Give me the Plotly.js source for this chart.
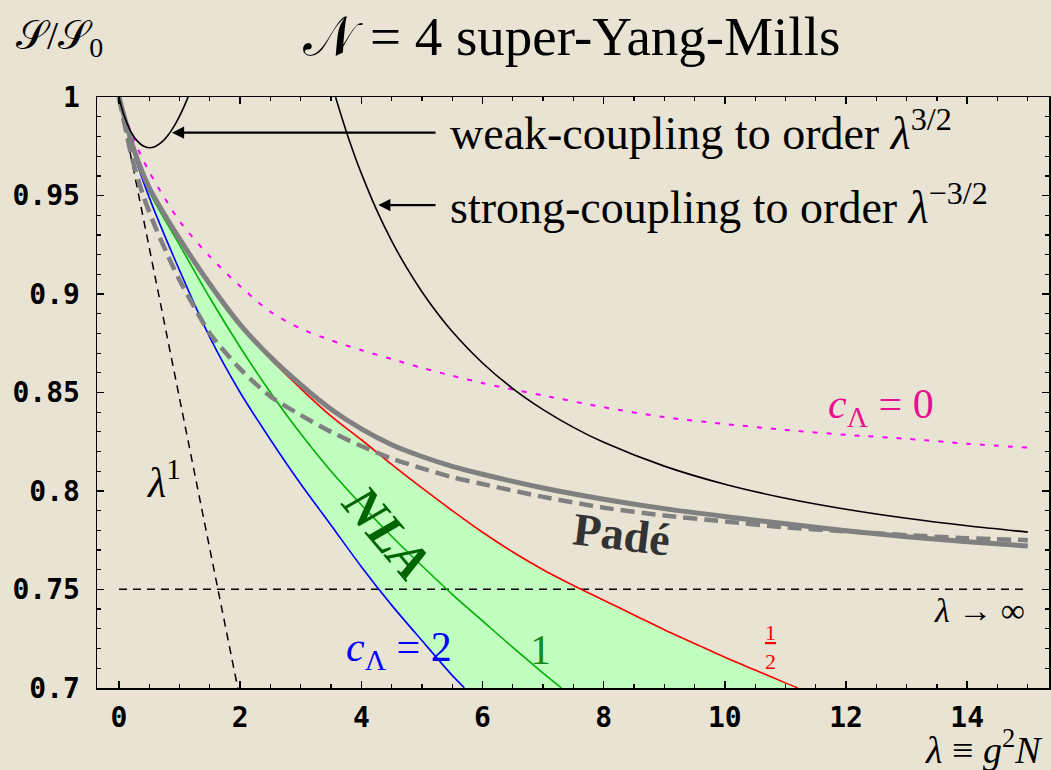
<!DOCTYPE html>
<html>
<head>
<meta charset="utf-8">
<script src="https://cdn.plot.ly/plotly-3.0.1.min.js"></script>
<style>
  html, body { margin: 0; padding: 0; background: #e9e3d4; }
  #chart { width: 1051px; height: 770px; }
</style>
</head>
<body>
<div id="chart"></div>
<script>
// Entropy of N=4 SYM, normalised to the free value, as a function of the 't Hooft coupling

// weak-coupling expansion to order lambda^(3/2)
const weakLam = [0, 0.05, 0.1, 0.2, 0.3, 0.4, 0.5, 0.6, 0.7, 0.8, 0.9, 1.0, 1.1, 1.2];
const weakVal = [1, 0.9940, 0.9893, 0.9823, 0.9778, 0.9752, 0.9743, 0.9750, 0.9770, 0.9803, 0.9848, 0.9904, 0.9971, 1.0048];

// strong-coupling expansion to order lambda^(-3/2)
const strongLam = [3.575, 3.6, 3.7, 3.8, 3.9, 4.0, 4.25, 4.5, 4.75, 5.0, 5.25, 5.5, 6.0, 6.5, 7.0, 7.5, 8, 9, 10, 11, 12, 13, 14, 15];
const strongVal = [1.0, 0.9974, 0.9875, 0.9781, 0.9694, 0.9613, 0.9429, 0.9270, 0.9133, 0.9012, 0.8905, 0.8810, 0.8650, 0.8520, 0.8413, 0.8323, 0.8247, 0.8126, 0.8034, 0.7963, 0.7907, 0.7861, 0.7823, 0.7791];

// first-order weak-coupling line
const linLam = [0, 1.96];
const linVal = [1.0, 0.70];

// strong-coupling limit
const limLam = [0, 15];
const limVal = [0.75, 0.75];

// NLA, c_Lambda = 0
const nla0Lam = [0, 0.25, 0.5, 0.75, 1.0, 1.5, 2.0, 2.5, 3.0, 3.5, 4.0, 4.5, 5.0, 5.5, 6.0, 6.5, 7.0, 8.0, 9.0, 10.0, 11.0, 12.0, 13.0, 14.0, 15.0];
const nla0Val = [1, 0.978, 0.962, 0.949, 0.937, 0.919, 0.904, 0.891, 0.8825, 0.8765, 0.8715, 0.867, 0.8625, 0.8585, 0.8548, 0.8515, 0.8485, 0.8425, 0.8375, 0.834, 0.831, 0.8285, 0.8265, 0.824, 0.822];

// NLA, c_Lambda = 1/2
const nlaHalfLam = [0, 0.25, 0.5, 1.0, 1.5, 2.0, 2.5, 3.0, 3.5, 4.0, 4.5, 5.0, 5.5, 6.0, 6.5, 7.0, 7.5, 8.0, 8.5, 9.0, 9.5, 10.0, 10.5, 11.0, 11.2];
const nlaHalfVal = [1, 0.973, 0.954, 0.928, 0.905, 0.8845, 0.867, 0.852, 0.838, 0.826, 0.8135, 0.8015, 0.790, 0.779, 0.769, 0.760, 0.752, 0.7445, 0.737, 0.7295, 0.7225, 0.7155, 0.709, 0.7025, 0.700];

// NLA, c_Lambda = 1
const nla1Lam = [0, 0.25, 0.5, 1.0, 1.5, 2.0, 2.5, 3.0, 3.5, 4.0, 4.5, 5.0, 5.5, 6.0, 6.5, 7.0, 7.3];
const nla1Val = [1, 0.972, 0.952, 0.925, 0.898, 0.873, 0.850, 0.829, 0.810, 0.793, 0.777, 0.762, 0.7475, 0.734, 0.7205, 0.7075, 0.700];

// NLA, c_Lambda = 2
const nla2Lam = [0, 0.25, 0.5, 1.0, 1.5, 2.0, 2.5, 3.0, 3.5, 4.0, 4.5, 5.0, 5.5, 5.7];
const nla2Val = [1, 0.971, 0.949, 0.912, 0.878, 0.850, 0.826, 0.8035, 0.7826, 0.7615, 0.742, 0.724, 0.7063, 0.700];

// Pade approximants
const padeLam = [0, 0.25, 0.5, 1, 1.5, 2, 2.5, 3, 3.5, 4, 4.5, 5, 5.5, 6, 7, 8, 9, 10, 11, 12, 13, 14, 15];
const padeVal = [1, 0.973, 0.954, 0.928, 0.905, 0.8845, 0.868, 0.854, 0.8415, 0.8315, 0.8235, 0.8175, 0.8125, 0.8085, 0.8015, 0.7958, 0.791, 0.787, 0.7833, 0.7798, 0.7767, 0.7742, 0.772];
const padeAltLam = [0, 0.2, 0.4, 0.6, 0.8, 1.0, 1.25, 1.5, 2.0, 2.5, 3.0, 3.5, 4.0, 4.5, 5.0, 5.5, 6.0, 7.0, 8.0, 9.0, 10.0, 11.0, 12.0, 13.0, 14.0, 15.0];
const padeAltVal = [1, 0.971, 0.950, 0.934, 0.920, 0.907, 0.893, 0.880, 0.862, 0.848, 0.8385, 0.830, 0.8228, 0.8165, 0.8115, 0.807, 0.8035, 0.797, 0.7915, 0.7875, 0.7845, 0.7815, 0.7795, 0.7775, 0.776, 0.775];

// axis ticks
const xTicks = [0, 2, 4, 6, 8, 10, 12, 14];
const xTickText = ['0', '2', '4', '6', '8', '10', '12', '14'];
const yTicks = [0.7, 0.75, 0.8, 0.85, 0.9, 0.95, 1.0];
const yTickText = ['0.7', '0.75', '0.8', '0.85', '0.9', '0.95', '1'];

const serif = 'Liberation Serif, Times New Roman, serif';
const mono = 'DejaVu Sans Mono, monospace';

function curve(x, y, color, width, dash, extra) {
  return Object.assign({
    x: x, y: y, type: 'scatter', mode: 'lines', hoverinfo: 'skip', showlegend: false,
    line: { color: color, width: width, dash: dash || 'solid', shape: 'spline', smoothing: 0.8 }
  }, extra || {});
}

const traces = [
  // NLA band between c_Lambda = 1/2 and c_Lambda = 2
  curve(nlaHalfLam, nlaHalfVal, 'rgba(0,0,0,0)', 0),
  curve(nla2Lam, nla2Val, 'rgba(0,0,0,0)', 0, null, { fill: 'tonexty', fillcolor: '#c0ffc0' }),
  curve(limLam, limVal, '#000000', 1.5, '8px,6px', { line: { color: '#000', width: 1.5, dash: '8px,6px' } }),
  curve(linLam, linVal, '#000000', 1.5, '8px,6px', { line: { color: '#000', width: 1.5, dash: '8px,6px' } }),
  curve(nla0Lam, nla0Val, '#ff00ff', 2, '5px,9px'),
  curve(nlaHalfLam, nlaHalfVal, '#ff0000', 1.6),
  curve(nla1Lam, nla1Val, '#00b000', 1.6),
  curve(nla2Lam, nla2Val, '#0000ff', 1.6),
  curve(padeAltLam, padeAltVal, '#808080', 4.5, '14px,7px'),
  curve(padeLam, padeVal, '#808080', 5),
  curve(weakLam, weakVal, '#000000', 1.6),
  curve(strongLam, strongVal, '#000000', 1.6)
];

const annotations = [
  // arrows from the captions to the two expansions
  { x: 0.875, y: 0.982, ax: 5.25, ay: 0.982, axref: 'x', ayref: 'y', xref: 'x', yref: 'y',
    text: '', showarrow: true, arrowhead: 2, arrowsize: 1.1, arrowwidth: 2.2, arrowcolor: '#000' },
  { x: 4.28, y: 0.9452, ax: 5.25, ay: 0.9452, axref: 'x', ayref: 'y', xref: 'x', yref: 'y',
    text: '', showarrow: true, arrowhead: 2, arrowsize: 1.1, arrowwidth: 2.2, arrowcolor: '#000' },
  { x: 5.43, y: 0.9835, xref: 'x', yref: 'y', xanchor: 'left', yanchor: 'middle', showarrow: false,
    text: 'weak-coupling to order <i>λ</i><sup>3/2</sup>', font: { family: serif, size: 46, color: '#000' } },
  { x: 5.43, y: 0.946, xref: 'x', yref: 'y', xanchor: 'left', yanchor: 'middle', showarrow: false,
    text: 'strong-coupling to order <i>λ</i><sup>−3/2</sup>', font: { family: serif, size: 46, color: '#000' } },
  { x: 12.57, y: 0.8426, xref: 'x', yref: 'y', showarrow: false,
    text: '<i>c</i><sub>Λ</sub> = 0', font: { family: serif, size: 42, color: '#e8108f' } },
  { x: 8.30, y: 0.7777, xref: 'x', yref: 'y', showarrow: false, textangle: 7,
    text: '<b>Padé</b>', font: { family: serif, size: 46, color: '#333333' } },
  { x: 4.42, y: 0.7787, xref: 'x', yref: 'y', showarrow: false, textangle: 50,
    text: '<b><i>NLA</i></b>', font: { family: serif, size: 52, color: '#006400' } },
  { x: 4.62, y: 0.7193, xref: 'x', yref: 'y', showarrow: false,
    text: '<i>c</i><sub>Λ</sub> = 2', font: { family: serif, size: 42, color: '#0000ff' } },
  { x: 6.95, y: 0.7193, xref: 'x', yref: 'y', showarrow: false,
    text: '1', font: { family: serif, size: 42, color: '#1a8a1a' } },
  { x: 10.76, y: 0.7208, xref: 'x', yref: 'y', showarrow: false,
    text: '<u>1</u><br>2', font: { family: serif, size: 22, color: '#ff0000' } },
  { x: 0.74, y: 0.8056, xref: 'x', yref: 'y', showarrow: false,
    text: '<i>λ</i><sup>1</sup>', font: { family: serif, size: 42, color: '#000' } },
  { x: 14.21, y: 0.7391, xref: 'x', yref: 'y', showarrow: false,
    text: '<i>λ</i> → ∞', font: { family: serif, size: 34, color: '#000' } },
  // axis captions
  { x: 0.996, y: -0.099, xref: 'paper', yref: 'paper', xanchor: 'right', yanchor: 'middle', showarrow: false,
    text: '<i>λ</i> ≡ <i>g</i><sup>2</sup><i>N</i>', font: { family: serif, size: 38, color: '#000' } },
  { x: -0.039, y: 1.0998, xref: 'paper', yref: 'paper', xanchor: 'center', yanchor: 'middle', showarrow: false,
    text: '𝒮/𝒮<sub>0</sub>', font: { family: serif, size: 40, color: '#000' } }
];

const axisCommon = {
  showline: true, linecolor: '#000', linewidth: 1.5, mirror: 'allticks',
  ticks: 'inside', ticklen: 7, tickwidth: 1.5, tickcolor: '#000',
  showgrid: false, zeroline: false, tickmode: 'array',
  tickfont: { family: mono, size: 28, weight: 'bold', color: '#000' }
};

const layout = {
  width: 1051, height: 770,
  margin: { l: 97, r: 2, t: 97, b: 82 },
  paper_bgcolor: '#e9e3d4', plot_bgcolor: '#e9e3d4',
  showlegend: false,
  title: {
    text: '𝒩 = 4 super-Yang-Mills',
    x: 0.544, y: 0.953, xanchor: 'center', yanchor: 'middle',
    font: { family: serif, size: 55, color: '#000' }
  },
  xaxis: Object.assign({}, axisCommon, {
    range: [-0.363, 15.35], tickvals: xTicks, ticktext: xTickText, ticklabelstandoff: 4,
    minor: { dtick: 0.5, tick0: 0, ticks: 'inside', ticklen: 4, tickwidth: 1.2, tickcolor: '#000', showgrid: false }
  }),
  yaxis: Object.assign({}, axisCommon, {
    range: [0.6999, 1.0001], tickvals: yTicks, ticktext: yTickText, ticklabelstandoff: 10,
    minor: { dtick: 0.01, tick0: 0.7, ticks: 'inside', ticklen: 4, tickwidth: 1.2, tickcolor: '#000', showgrid: false }
  }),
  annotations: annotations
};

Plotly.newPlot('chart', traces, layout, { displayModeBar: false, staticPlot: true });
</script>
</body>
</html>
